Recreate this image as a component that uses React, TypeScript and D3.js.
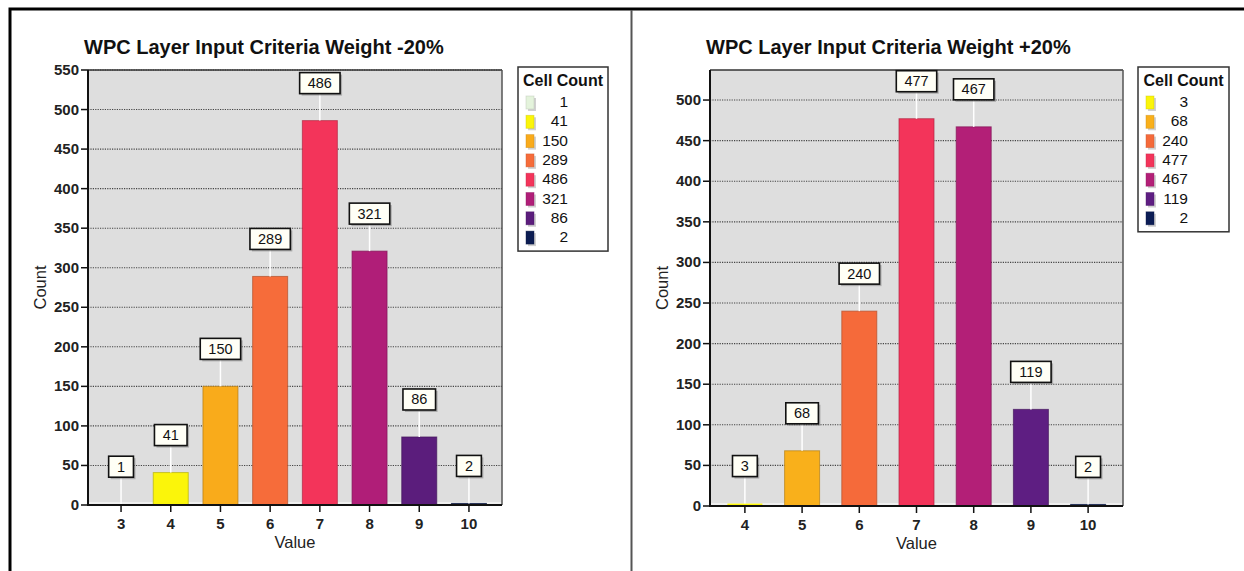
import React from "react";
import * as d3 from "d3";

// Cell counts per reclassified value, -20% weighting
const minusValues = ["3", "4", "5", "6", "7", "8", "9", "10"];
const minusCounts = [1, 41, 150, 289, 486, 321, 86, 2];
const minusColors = ["#e4f3dc", "#fbf50a", "#f9ab1b", "#f66c3a", "#f3345a", "#b01e78", "#5b1d7c", "#0c1d52"];
const minusTicks = [0, 50, 100, 150, 200, 250, 300, 350, 400, 450, 500, 550];

// Cell counts per reclassified value, +20% weighting
const plusValues = ["4", "5", "6", "7", "8", "9", "10"];
const plusCounts = [3, 68, 240, 477, 467, 119, 2];
const plusColors = ["#fbf50a", "#f9b01b", "#f56a3a", "#f3345a", "#b31f77", "#5e1e82", "#0c1d55"];
const plusTicks = [0, 50, 100, 150, 200, 250, 300, 350, 400, 450, 500];

const FONT = "'Liberation Sans', Arial, Helvetica, sans-serif";

type PanelProps = {
  title: string;
  values: string[];
  counts: number[];
  colors: string[];
  ticks: number[];
  yMax: number;
  left: number;
  right: number;
  top: number;
  bottom: number;
  padding: number;
  legendX: number;
  legendW: number;
};

function Panel(p: PanelProps) {
  const x = d3.scalePoint<string>().domain(p.values).range([p.left, p.right]).padding(p.padding);
  const y = d3.scaleLinear().domain([0, p.yMax]).range([p.bottom, p.top]);
  const barW = 35;
  const legendTop = 67;
  const rowH = 19.3;
  const legendH = 40 + rowH * (p.counts.length - 1) + 9;
  const midY = (p.top + p.bottom) / 2;
  const midX = (p.left + p.right) / 2;

  return (
    <g fontFamily={FONT}>
      <text x={p.left - 4} y={54} fontSize={20} fontWeight="bold" fill="#111">
        {p.title}
      </text>

      {/* plot area */}
      <rect x={p.left} y={p.top} width={p.right - p.left} height={p.bottom - p.top} fill="#dedede" />
      {p.ticks.filter((t) => t > 0).map((t) => (
        <line key={"g" + t} x1={p.left} x2={p.right} y1={y(t)} y2={y(t)} stroke="#444" strokeWidth={1.1} strokeDasharray="1.2,1.2" />
      ))}
      <line x1={p.left} x2={p.right} y1={p.bottom - 2} y2={p.bottom - 2} stroke="#fff" strokeWidth={1.2} />
      <line x1={p.left} x2={p.right} y1={p.top} y2={p.top} stroke="#333" strokeWidth={1.5} />
      <line x1={p.right} x2={p.right} y1={p.top} y2={p.bottom} stroke="#555" strokeWidth={1.5} />

      {/* bars */}
      {p.values.map((v, i) => {
        const cx = x(v) as number;
        const yt = y(p.counts[i]);
        const stroke = d3.color(p.colors[i])!.darker(0.9).formatHex();
        return (
          <g key={"b" + v}>
            <rect
              x={cx - barW / 2}
              y={yt}
              width={barW}
              height={p.bottom - yt}
              fill={p.colors[i]}
              stroke={i === 0 && p.counts[i] < 5 ? "none" : stroke}
              strokeOpacity={0.7}
              strokeWidth={1}
            />
          </g>
        );
      })}

      {/* value labels */}
      {p.values.map((v, i) => {
        const cx = x(v) as number;
        const yt = y(p.counts[i]);
        const label = String(p.counts[i]);
        const w = label.length * 7.8 + 17;
        const h = 21;
        const boxBottom = yt - 27;
        return (
          <g key={"l" + v}>
            <line x1={cx} x2={cx} y1={boxBottom} y2={yt} stroke="#fff" strokeWidth={1.5} />
            <rect x={cx - w / 2 + 2} y={boxBottom - h + 2} width={w} height={h} fill="#777" opacity={0.5} />
            <rect x={cx - w / 2} y={boxBottom - h} width={w} height={h} fill="#fffff6" stroke="#111" strokeWidth={1.6} />
            <text x={cx} y={boxBottom - h / 2 + 5} textAnchor="middle" fontSize={14.5} fill="#111">
              {label}
            </text>
          </g>
        );
      })}

      {/* y axis */}
      <line x1={p.left} x2={p.left} y1={p.top} y2={p.bottom + 1} stroke="#111" strokeWidth={2} />
      {p.ticks.map((t) => (
        <g key={"y" + t}>
          <line x1={p.left - 7} x2={p.left} y1={y(t)} y2={y(t)} stroke="#111" strokeWidth={1.5} />
          <text x={p.left - 9} y={y(t) + 5} textAnchor="end" fontSize={15} fontWeight="bold" fill="#222">
            {t}
          </text>
        </g>
      ))}
      <text
        transform={`translate(${p.left - 42},${midY}) rotate(-90)`}
        textAnchor="middle"
        fontSize={16.5}
        fill="#222"
      >
        Count
      </text>

      {/* x axis */}
      <line x1={p.left - 1} x2={p.right} y1={p.bottom} y2={p.bottom} stroke="#111" strokeWidth={2} />
      {p.values.map((v) => (
        <g key={"x" + v}>
          <line x1={x(v)} x2={x(v)} y1={p.bottom} y2={p.bottom + 7} stroke="#111" strokeWidth={1.5} />
          <text x={x(v)} y={p.bottom + 24} textAnchor="middle" fontSize={15} fontWeight="bold" fill="#222">
            {v}
          </text>
        </g>
      ))}
      <text x={midX} y={p.bottom + 43} textAnchor="middle" fontSize={16.5} fill="#222">
        Value
      </text>

      {/* legend */}
      <rect x={p.legendX} y={legendTop} width={p.legendW} height={legendH} fill="#fff" stroke="#333" strokeWidth={1.5} />
      <text x={p.legendX + p.legendW / 2} y={legendTop + 19} textAnchor="middle" fontSize={16} fontWeight="bold" fill="#111">
        Cell Count
      </text>
      {p.counts.map((c, i) => {
        const by = legendTop + 40 + i * rowH;
        return (
          <g key={"k" + i}>
            <rect x={p.legendX + 10} y={by - 9} width={8} height={13} fill="#999" opacity={0.45} />
            <rect x={p.legendX + 8} y={by - 11} width={8} height={13} fill={p.colors[i]} stroke={d3.color(p.colors[i])!.darker(0.6).formatHex()} strokeOpacity={0.5} strokeWidth={0.8} />
            <text x={p.legendX + 50} y={by} textAnchor="end" fontSize={15.5} fill="#111">
              {c}
            </text>
          </g>
        );
      })}
    </g>
  );
}

export default function App() {
  return (
    <svg width={1244} height={571} style={{ position: "absolute", left: 0, top: 0, background: "#fff" }}>
      <rect x={0} y={0} width={1244} height={571} fill="#fff" />
      {/* outer frame */}
      <rect x={10} y={9} width={1400} height={800} fill="none" stroke="#000" strokeWidth={3} />
      <line x1={631.5} x2={631.5} y1={10} y2={571} stroke="#555" strokeWidth={2} />

      <Panel
        title="WPC Layer Input Criteria Weight -20%"
        values={minusValues}
        counts={minusCounts}
        colors={minusColors}
        ticks={minusTicks}
        yMax={550}
        left={88}
        right={502}
        top={70}
        bottom={505}
        padding={0.665}
        legendX={518}
        legendW={90}
      />
      <Panel
        title="WPC Layer Input Criteria Weight +20%"
        values={plusValues}
        counts={plusCounts}
        colors={plusColors}
        ticks={plusTicks}
        yMax={537}
        left={710}
        right={1123}
        top={70}
        bottom={506}
        padding={0.61}
        legendX={1138}
        legendW={91}
      />
    </svg>
  );
}
